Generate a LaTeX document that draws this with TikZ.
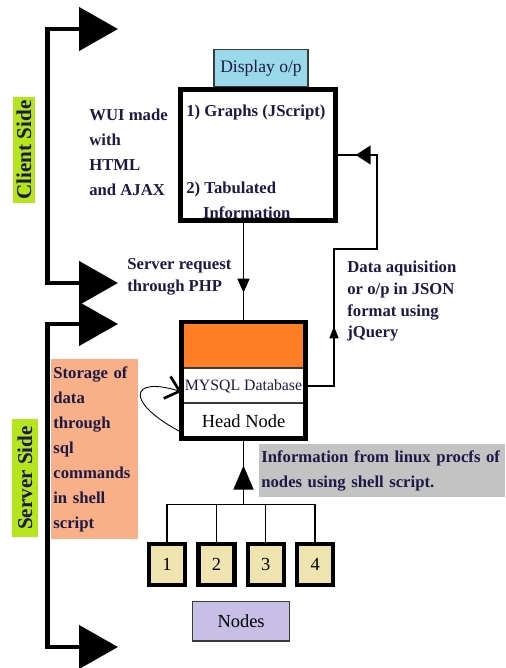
\documentclass[tikz,border=0pt]{standalone}
\usepackage{fontspec}
\setmainfont{Liberation Serif}
\usepackage{tikz}
\usetikzlibrary{arrows.meta,positioning,fit,calc,decorations.markings}
\definecolor{InkNavy}{HTML}{1C1A44}
\definecolor{BoxLine}{HTML}{3A3A3A}
\definecolor{LimeTag}{HTML}{B5E61D}
\definecolor{SkyTab}{HTML}{99D9EA}
\definecolor{DbOrange}{HTML}{FF7F27}
\definecolor{Salmon}{HTML}{F9AF87}
\definecolor{InfoGray}{HTML}{C3C3C3}
\definecolor{Khaki}{HTML}{EFE4B0}
\definecolor{Lavender}{HTML}{C8BFE7}

\begin{document}
\begin{tikzpicture}[
    x=0.02cm, y=-0.02cm,
    note/.style={font=\bfseries\fontsize{9.5}{14.2}\selectfont, text=InkNavy, align=left, inner sep=0pt},
    tightnote/.style={note, font=\bfseries\fontsize{9.5}{12.3}\selectfont},
    sidetag/.style={fill=LimeTag, rotate=90, font=\bfseries\fontsize{12}{14}\selectfont, text=InkNavy, inner sep=1pt},
    bracket/.style={line width=2.5pt, >={Triangle[length=0.78cm,width=0.86cm]}, <->},
    dispbox/.style={draw, line width=2.5pt, fill=white, minimum width=3.1cm, minimum height=2.62cm},
    tabbox/.style={draw=BoxLine, line width=0.8pt, fill=SkyTab, minimum width=1.88cm, minimum height=0.74cm, font=\fontsize{10}{12}\selectfont, text=InkNavy},
    dbpart/.style={draw=BoxLine, line width=0.6pt, fill=white, minimum width=2.46cm, minimum height=0.68cm, inner sep=0pt},
    dbframe/.style={draw, line width=2.5pt, inner sep=0pt},
    storebox/.style={note, fill=Salmon, minimum width=1.74cm, minimum height=3.6cm, text width=1.66cm, inner xsep=0.04cm},
    infobox/.style={note, fill=InfoGray, minimum height=1.06cm, text width=4.84cm, inner xsep=0.04cm},
    nodebox/.style={draw, line width=2.5pt, fill=Khaki, minimum width=0.72cm, minimum height=0.82cm, inner sep=0pt, font=\fontsize{10.5}{12}\selectfont},
    nodesbox/.style={draw=BoxLine, line width=0.8pt, fill=Lavender, minimum width=1.94cm, minimum height=0.8cm, font=\fontsize{10.5}{12}\selectfont},
    wire/.style={line width=0.8pt},
    midarr/.style 2 args={decoration={markings, mark=at position #1 with {\arrow{#2}}}, postaction={decorate}},
    selfloop/.style={line width=0.5pt, -{Straight Barb[length=0.26cm,width=0.46cm,line width=1.5pt]}}
]
\useasboundingbox (0,0) rectangle (506,668);

% 左侧：客户端 / 服务端 两段括线
\coordinate (ctop) at (118,29);
\coordinate (crail) at (47.5,156);
\coordinate (cbot) at (118,283);
\draw[bracket] (ctop) -| (crail) |- (cbot);
\node[sidetag, minimum width=2.12cm, minimum height=0.46cm] (client) at (24,150) {Client Side};

\coordinate (stop) at (118,324);
\coordinate (srail) at (47.5,480);
\coordinate (sbot) at (118,647);
\draw[bracket] (stop) -| (srail) |- (sbot);
\node[sidetag, minimum width=2.38cm, minimum height=0.52cm] (server) at (25,478) {Server Side};

% 上方：显示界面
\node[dispbox] (disp) at (258,155) {};
\node[tabbox, above=0pt of disp, xshift=0.06cm] (tab) {Display o/p};
\node[note, anchor=base west] (g1) at (186,117) {1) Graphs (JScript)};
\node[note, anchor=north west] (g2) at (186,182) {2) Tabulated\\\hspace*{9.6pt}Information};
\node[note, anchor=north west] (wui) at (89,109) {WUI made\\with\\HTML\\and AJAX};

% 中部：头节点与数据库
\node[dbpart, fill=DbOrange, minimum height=0.91cm] (dbtop) at (243.5,345) {};
\node[dbpart, below=0pt of dbtop, font=\fontsize{9}{11}\selectfont, text=InkNavy] (mysql) {MYSQL Database};
\node[dbpart, below=0pt of mysql, font=\fontsize{10.5}{12}\selectfont] (head) {Head Node};
\node[dbframe, fit=(dbtop)(mysql)(head)] (db) {};

\node[tightnote, anchor=north west] (req) at (127,258) {Server request\\through PHP};
\node[tightnote, anchor=north west] (json) at (347,261) {Data aquisition\\or o/p in JSON\\format using\\jQuery};
\node[storebox, anchor=north west] (store) at (51,359) {Storage of\\data\\through\\sql\\commands\\in shell\\script};

% 连线：请求向下，数据回传向上
\draw[wire, midarr={1.4cm}{Triangle[length=0.28cm,width=0.24cm]}] (db.north |- disp.south) -- (db.north);
\coordinate (dj1) at (334,249);
\coordinate (dj2) at (377,249);
\draw[wire, decoration={markings,
        mark=at position 1.76cm with {\arrow{Triangle[length=0.24cm,width=0.18cm]}},
        mark=at position -0.36cm with {\arrow{Triangle[length=0.3cm,width=0.38cm]}}},
      postaction={decorate}] (mysql.east) -| (dj1) -- (dj2) |- (disp.east);
\draw[selfloop] ($(head.south west)+(0,-6)$) .. controls +(-57,-30) and +(-52,-16) .. ($(mysql.west)+(0,6)$);

% 下方：计算节点
\node[nodebox] (n1) at (167,564.5) {1};
\node[nodebox, right=0.18cm of n1] (n2) {2};
\node[nodebox, right=0.18cm of n2] (n3) {3};
\node[nodebox, right=0.18cm of n3] (n4) {4};
\node[nodesbox] (nodes) at ($(n2.south)!0.5!(n3.south)+(0,34)$) {Nodes};

\coordinate (bus) at ($(db.south)+(0,64)$);
\draw[wire] (n1.north) |- (bus) -| (n4.north);
\draw[wire] (n2.north) -- (n2.north |- bus);
\draw[wire] (n3.north) -- (n3.north |- bus);
\draw[wire, midarr={0.78cm}{Triangle[length=0.48cm,width=0.4cm]}] (bus) -- (db.south);
\node[infobox, anchor=north west] (info) at (259,444) {Information from linux procfs of\\nodes using shell script.};
\end{tikzpicture}
\end{document}
